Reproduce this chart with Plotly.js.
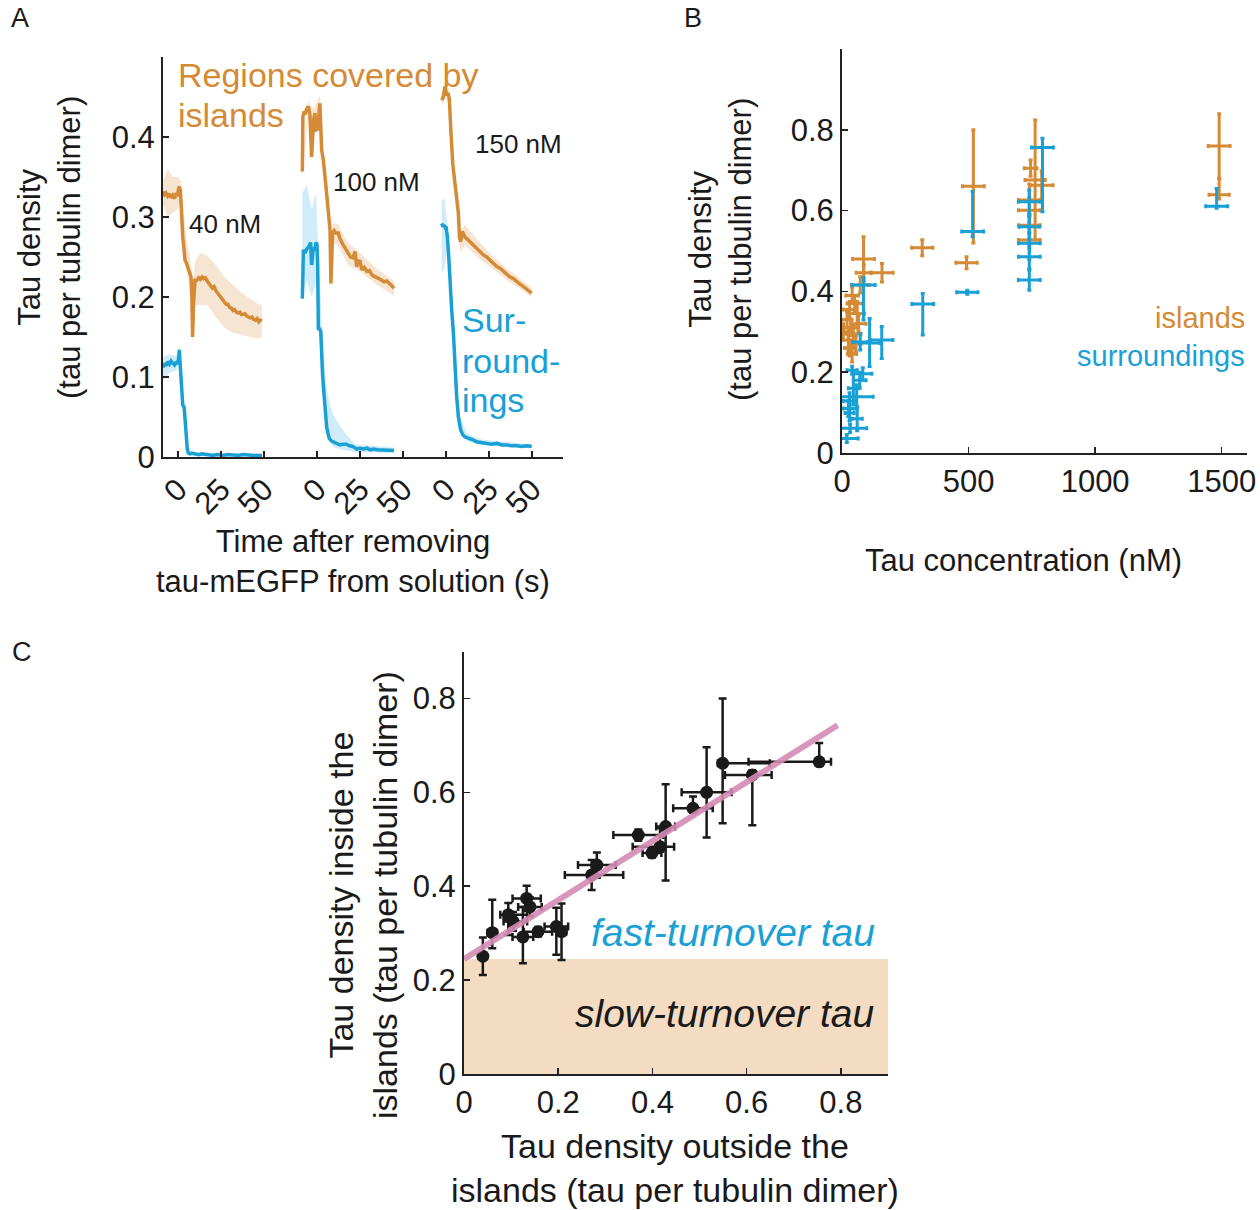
<!DOCTYPE html>
<html><head><meta charset="utf-8">
<script src="https://cdn.plot.ly/plotly-3.0.1.min.js"></script>
<style>html,body{margin:0;padding:0;background:#fff}#chart{width:1260px;height:1210px}</style>
</head><body><div id="chart"></div>
<script>
// ---------------- Panel A data (time in s, tau per tubulin dimer) ----------------
const concLabels = ['40 nM', '100 nM', '150 nM'];
const timeTicks = [0, 25, 50];
// 40 nM
const tA1o = [-8.7,-7.8,-7,-6,-5,-4,-3,-2,-1,-0.3,0.3,0.8,1.4,2.1,2.8,3.5,4.1,5,6,7,7.6,8.1,8.5,9.0,9.9,11,12,13,14,15,16,17,18,19,20,21,22,23,24,25,26,27,28,29,30,31,32,33,34,35,36,37,38,39,40,41,42,43,44,45,46,47,48,48.8];
const vA1o = [0.332,0.328,0.330,0.326,0.329,0.324,0.327,0.323,0.330,0.326,0.335,0.338,0.333,0.29,0.275,0.26,0.246,0.242,0.236,0.228,0.225,0.20,0.15,0.19,0.221,0.221,0.224,0.222,0.225,0.223,0.224,0.220,0.216,0.214,0.211,0.213,0.208,0.205,0.203,0.199,0.197,0.193,0.191,0.191,0.187,0.186,0.183,0.184,0.181,0.180,0.181,0.178,0.178,0.179,0.176,0.175,0.174,0.175,0.172,0.171,0.173,0.169,0.171,0.170];
const tA1b = [-8.7,-7.8,-7,-6,-5,-4,-3,-2,-1,-0.3,0.3,0.8,1.2,1.8,2.2,2.8,3.6,4.2,4.8,5.4,6,7,8,10,12,14,16,18,20,23,26,29,32,35,38,41,44,47,48.8];
const vA1b = [0.112,0.117,0.114,0.119,0.116,0.120,0.117,0.115,0.119,0.116,0.122,0.134,0.118,0.10,0.08,0.065,0.062,0.04,0.02,0.01,0.005,0.004,0.005,0.004,0.003,0.004,0.003,0.003,0.002,0.003,0.002,0.003,0.002,0.002,0.003,0.002,0.002,0.002,0.002];
const bT1o = [-8.7,-6,-3,0,1.5,3,5,7,8.5,10,13,17,22,27,32,37,42,46,48.8];
const bH1o = [0.345,0.36,0.35,0.35,0.345,0.31,0.27,0.25,0.22,0.245,0.255,0.252,0.24,0.225,0.215,0.205,0.198,0.192,0.19];
const bL1o = [0.315,0.30,0.305,0.31,0.32,0.27,0.232,0.205,0.14,0.19,0.19,0.19,0.175,0.162,0.155,0.152,0.15,0.148,0.15];
const bT1b = [-8.7,-5,-1,0.8,2,3.5,5,7,48.8];
const bH1b = [0.125,0.128,0.126,0.14,0.11,0.07,0.02,0.006,0.004];
const bL1b = [0.095,0.105,0.108,0.125,0.09,0.05,0.005,0.001,0.001];
// 100 nM
const tA2o = [-8.5,-8.2,-7.5,-7,-6,-5,-4.1,-3.1,-2.1,-1.2,-0.6,0.5,1.2,1.7,2.7,3.7,4.7,5.7,6.7,7.6,8.1,8.6,9.1,10,11,12.4,13.5,15,16.5,18.2,19.5,21,22.1,23.1,24,25,26,27.5,29,30.5,31.8,33,34.5,36,37.6,39,40.5,42.4,43.5,44.8];
const vA2o = [0.357,0.425,0.432,0.428,0.435,0.438,0.428,0.375,0.419,0.43,0.409,0.41,0.43,0.442,0.384,0.371,0.35,0.33,0.305,0.284,0.217,0.25,0.28,0.283,0.28,0.28,0.272,0.266,0.26,0.255,0.25,0.249,0.257,0.238,0.244,0.246,0.234,0.237,0.232,0.233,0.228,0.226,0.225,0.223,0.221,0.219,0.22,0.217,0.214,0.211];
const tA2b = [-8.5,-7.9,-7,-6,-5,-4.2,-3.7,-3.1,-2.1,-1.2,-0.6,0,0.4,0.8,1.5,2.2,2.7,3.2,3.7,4.2,4.7,5.6,6.5,7.2,8.5,9.5,11,13.4,15,17,19,21,23,25,27,29,31,33,35,37,38.8,40.5,42.5,44.8];
const vA2b = [0.198,0.259,0.255,0.26,0.262,0.266,0.268,0.24,0.262,0.258,0.268,0.266,0.24,0.159,0.16,0.157,0.122,0.105,0.089,0.072,0.059,0.038,0.028,0.023,0.02,0.019,0.018,0.015,0.016,0.016,0.014,0.013,0.01,0.011,0.01,0.011,0.009,0.01,0.009,0.009,0.008,0.009,0.008,0.008];
const bT2o = [-8.5,-5,-2,1.7,4,7.6,8.1,9.1,12,18,25,35,44.8];
const bH2o = [0.365,0.445,0.435,0.452,0.365,0.292,0.232,0.292,0.292,0.268,0.255,0.235,0.22];
const bL2o = [0.35,0.43,0.405,0.432,0.345,0.276,0.205,0.268,0.265,0.24,0.232,0.215,0.202];
const bT2b = [-8.5,-6,-3,-0.5,0.5,2,4,6,9,13,17,22,44.8];
const bH2b = [0.33,0.34,0.31,0.33,0.27,0.2,0.12,0.08,0.055,0.04,0.028,0.016,0.012];
const bL2b = [0.2,0.22,0.2,0.22,0.2,0.14,0.07,0.03,0.013,0.01,0.008,0.006,0.005];
// 150 nM
const tA3o = [-2.5,-1.6,-0.6,0.4,1.1,1.9,2.9,3.9,5.2,6.2,7.2,7.8,8.5,9.5,11,12.5,14,16,17.8,19.7,21.7,23.6,25.6,27.5,29.5,31.4,33.3,35.2,37.2,39.1,41.1,43,45,47,48.5,49.8];
const vA3o = [0.446,0.45,0.463,0.452,0.455,0.448,0.405,0.367,0.342,0.321,0.305,0.275,0.269,0.282,0.275,0.272,0.269,0.266,0.261,0.257,0.2525,0.25,0.246,0.241,0.238,0.236,0.232,0.229,0.225,0.223,0.219,0.216,0.213,0.209,0.207,0.205];
const tA3b = [-2.5,-1.8,-1.2,-0.5,0,0.8,1.6,2.3,3.3,4.3,5.2,6.2,7.2,8.5,9.7,11,12.5,14,16,17.8,20,23.7,26.5,29.5,32.5,35.3,38,41.1,44,47,49.8];
const vA3b = [0.292,0.288,0.29,0.287,0.288,0.275,0.25,0.217,0.184,0.155,0.113,0.075,0.05,0.034,0.028,0.025,0.024,0.023,0.021,0.019,0.018,0.017,0.016,0.017,0.015,0.015,0.014,0.014,0.013,0.014,0.013];
const bT3o = [-2.5,0,1.9,4,7.8,8.5,11,18,25,35,49.8];
const bH3o = [0.455,0.47,0.458,0.37,0.285,0.282,0.29,0.272,0.256,0.236,0.212];
const bL3o = [0.44,0.45,0.44,0.35,0.265,0.255,0.265,0.25,0.238,0.222,0.2];
const bT3b = [-2.5,-1,0.8,2.3,4.3,7.2,12,20,49.8];
const bH3b = [0.32,0.325,0.29,0.225,0.163,0.057,0.03,0.022,0.016];
const bL3b = [0.23,0.235,0.26,0.21,0.147,0.044,0.02,0.015,0.011];

// ---------------- Panel B data (nM, tau per tubulin dimer) ----------------
const isX    = [1490,1490,519,492,317,763,789,740,740,740,740,745,85,158,86,72,40,50,30,60,20,65,35,5,45,25,30,40,55];
const isY    = [0.760,0.639,0.66,0.471,0.508,0.676,0.663,0.626,0.601,0.564,0.527,0.705,0.48,0.446,0.446,0.416,0.39,0.37,0.355,0.345,0.33,0.32,0.31,0.30,0.295,0.28,0.26,0.245,0.27];
const isXerr = [43,40,43,42,42,40,45,43,43,43,43,25,43,44,30,35,25,30,25,30,20,30,25,35,30,25,20,18,20];
const isYup  = [0.08,0.04,0.14,0.015,0.02,0.148,0.035,0.04,0.03,0.02,0.02,0.02,0.055,0.023,0.02,0.02,0.02,0.02,0.02,0.03,0.02,0.02,0.02,0.02,0.02,0.03,0.02,0.02,0.02];
const isYdn  = [0.08,0.01,0.14,0.015,0.02,0.148,0.035,0.04,0.03,0.02,0.02,0.02,0.055,0.023,0.02,0.02,0.02,0.02,0.02,0.03,0.02,0.02,0.02,0.02,0.02,0.03,0.02,0.02,0.02];
const suX    = [1480,792,740,740,740,740,740,516,495,319,85,109,157,72,40,82,70,58,30,45,25,30,32,19,60];
const suY    = [0.611,0.756,0.622,0.56,0.519,0.486,0.428,0.548,0.398,0.369,0.416,0.272,0.28,0.275,0.205,0.196,0.18,0.139,0.129,0.16,0.11,0.099,0.061,0.036,0.085];
const suXerr = [43,43,43,40,43,43,43,43,42,43,46,40,44,30,20,36,25,65,25,20,20,18,66,45,20];
const suYup  = [0.044,0.023,0.029,0.03,0.04,0.03,0.025,0.099,0.005,0.026,0.018,0.061,0.033,0.02,0.01,0.015,0.02,0.03,0.02,0.04,0.02,0.02,0.01,0.01,0.03];
const suYdn  = [0.005,0.159,0.03,0.03,0.04,0.03,0.025,0.013,0.005,0.077,0.087,0.058,0.046,0.02,0.01,0.015,0.02,0.03,0.02,0.04,0.02,0.02,0.01,0.01,0.03];

// ---------------- Panel C data ----------------
const cX  = [0.754,0.549,0.612,0.515,0.486,0.428,0.416,0.399,0.37,0.282,0.271,0.133,0.14,0.094,0.104,0.06,0.04,0.125,0.157,0.196,0.207];
const cY  = [0.665,0.662,0.637,0.60,0.566,0.527,0.484,0.471,0.509,0.445,0.424,0.374,0.356,0.339,0.325,0.301,0.251,0.292,0.303,0.314,0.303];
const cXm = [0.15,0.01,0.058,0.053,0.042,0.02,0.058,0.02,0.053,0.04,0.057,0.03,0.025,0.017,0.02,0.01,0.005,0.022,0.03,0.025,0.01];
const cXp = [0.025,0.10,0.041,0.053,0.042,0.02,0.03,0.02,0.053,0.04,0.067,0.03,0.025,0.04,0.03,0.01,0.005,0.022,0.03,0.025,0.01];
const cYm = [0.005,0.128,0.107,0.096,0.0,0.115,0.01,0.01,0.012,0.027,0.032,0.027,0.02,0.043,0.02,0.033,0.04,0.056,0.01,0.06,0.06];
const cYp = [0.04,0.138,0.01,0.096,0.025,0.09,0.04,0.01,0.012,0.027,0.032,0.027,0.02,0.025,0.02,0.07,0.04,0.064,0.01,0.04,0.06];
const fitIntercept = 0.245, fitSlope = 0.628, fitXmax = 0.793;

// ---------------- styling ----------------
const ORANGE = '#d58a35', BLUE = '#19a0d5', BLACK = '#1a1a1a', PINK = 'rgba(212,140,178,0.9)', PEACH = '#f3dcc1';
const FONT = 'Liberation Sans, Arial, Helvetica, sans-serif';
const W = 1260, H = 1210;
const px = v => v / W, py = v => 1 - v / H;
const tOffsets = [8.7, 89.5, 164.5]; // horizontal placement of each concentration's time axis

const traces = [];
function band(t, hi, lo, g, color) {
  const x = t.map(v => v + tOffsets[g]);
  traces.push({type:'scatter', mode:'lines', xaxis:'x', yaxis:'y', hoverinfo:'skip',
    x: x.concat(x.slice().reverse()), y: hi.concat(lo.slice().reverse()),
    fill:'toself', fillcolor: color, line:{width:0}, showlegend:false});
}
function trace(t, v, g, color) {
  traces.push({type:'scatter', mode:'lines', xaxis:'x', yaxis:'y', showlegend:false,
    x: t.map(a => a + tOffsets[g]), y: v, line:{color: color, width: 3.5}});
}
const OB = 'rgba(230,170,110,0.3)', BB = 'rgba(110,195,235,0.32)';
band(bT1o,bH1o,bL1o,0,OB); band(bT1b,bH1b,bL1b,0,BB);
band(bT2o,bH2o,bL2o,1,OB); band(bT2b,bH2b,bL2b,1,BB);
band(bT3o,bH3o,bL3o,2,OB); band(bT3b,bH3b,bL3b,2,BB);
trace(tA1o,vA1o,0,ORANGE); trace(tA1b,vA1b,0,BLUE);
trace(tA2o,vA2o,1,ORANGE); trace(tA2b,vA2b,1,BLUE);
trace(tA3o,vA3o,2,ORANGE); trace(tA3b,vA3b,2,BLUE);

function ebTrace(x, y, xe, yu, yd, color) {
  return {type:'scatter', mode:'markers', xaxis:'x2', yaxis:'y2', showlegend:false,
    x, y, marker:{size:2, color},
    error_x:{type:'data', array:xe, symmetric:true, color, thickness:3, width:2},
    error_y:{type:'data', array:yu, arrayminus:yd, symmetric:false, color, thickness:3, width:2}};
}
traces.push(ebTrace(isX, isY, isXerr, isYup, isYdn, ORANGE));
traces.push(ebTrace(suX, suY, suXerr, suYup, suYdn, BLUE));

traces.push({type:'scatter', mode:'markers', xaxis:'x3', yaxis:'y3', showlegend:false,
  x:cX, y:cY, marker:{size:13, color:BLACK},
  error_x:{type:'data', symmetric:false, array:cXp, arrayminus:cXm, color:BLACK, thickness:2.5, width:4},
  error_y:{type:'data', symmetric:false, array:cYp, arrayminus:cYm, color:BLACK, thickness:2.5, width:4}});
traces.push({type:'scatter', mode:'lines', xaxis:'x3', yaxis:'y3', showlegend:false,
  x:[0, fitXmax], y:[fitIntercept, fitIntercept + fitSlope * fitXmax], line:{color:PINK, width:6}});

// tick positions for panel A
const aTickVals = [], aTickText = [];
tOffsets.forEach(o => timeTicks.forEach(t => { aTickVals.push(o + t); aTickText.push(String(t)); }));

const axBase = {showline:true, linecolor:'#222', linewidth:2, ticks:'inside', ticklen:6, tickwidth:1.5,
  tickcolor:'#222', showgrid:false, zeroline:false, tickfont:{family:FONT, size:31, color:BLACK}, fixedrange:true};

const ann = [];
function txt(text, x, y, opts) {
  ann.push(Object.assign({text, x:px(x), y:py(y), xref:'paper', yref:'paper', showarrow:false,
    xanchor:'center', yanchor:'middle', font:{family:FONT, size:31, color:BLACK}}, opts || {}));
}
txt('A', 20, 18, {font:{family:FONT, size:27, color:BLACK}});
txt('B', 693, 18, {font:{family:FONT, size:27, color:BLACK}});
txt('C', 22, 652, {font:{family:FONT, size:27, color:BLACK}});
// panel A texts
txt('Regions covered by', 176, 75, {xanchor:'left', font:{family:FONT, size:34, color:ORANGE}});
txt('islands', 176, 115, {xanchor:'left', font:{family:FONT, size:34, color:ORANGE}});
txt(concLabels[0], 225, 224, {font:{family:FONT, size:26, color:BLACK}});
txt(concLabels[1], 376, 182, {font:{family:FONT, size:26, color:BLACK}});
txt(concLabels[2], 518, 144, {font:{family:FONT, size:26, color:BLACK}});
txt('Sur-', 460, 320, {xanchor:'left', font:{family:FONT, size:34, color:BLUE}});
txt('round-', 460, 361, {xanchor:'left', font:{family:FONT, size:34, color:BLUE}});
txt('ings', 460, 400, {xanchor:'left', font:{family:FONT, size:34, color:BLUE}});
txt('Tau density<br>(tau per tubulin dimer)', 49, 248, {textangle:-90});
txt('Time after removing<br>tau-mEGFP from solution (s)', 353, 561);
// panel B texts
txt('islands', 1247, 318, {xanchor:'right', font:{family:FONT, size:29, color:ORANGE}});
txt('surroundings', 1247, 356, {xanchor:'right', font:{family:FONT, size:29, color:BLUE}});
txt('Tau density<br>(tau per tubulin dimer)', 721, 250, {textangle:-90});
txt('Tau concentration (nM)', 1023, 560);
// panel C texts
txt('Tau density inside the<br>islands (tau per tubulin dimer)', 363, 895, {textangle:-90, font:{family:FONT, size:34, color:BLACK}});
txt('Tau density outside the<br>islands (tau per tubulin dimer)', 675, 1168, {font:{family:FONT, size:34, color:BLACK}});
txt('<i>fast-turnover tau</i>', 733, 932, {font:{family:FONT, size:39, color:BLUE}});
txt('<i>slow-turnover tau</i>', 725, 1013, {font:{family:FONT, size:39, color:BLACK}});

const layout = {
  width:W, height:H, margin:{l:0, r:0, t:0, b:0}, paper_bgcolor:'#fff', plot_bgcolor:'rgba(0,0,0,0)',
  showlegend:false, font:{family:FONT, color:BLACK},
  xaxis: Object.assign({}, axBase, {domain:[px(163), px(563)], range:[0, 232.5], anchor:'y',
    tickvals:aTickVals, ticktext:aTickText, tickangle:-45}),
  yaxis: Object.assign({}, axBase, {domain:[py(457), py(57)], range:[0, 0.5], anchor:'x',
    tickvals:[0,0.1,0.2,0.3,0.4], ticktext:['0','0.1','0.2','0.3','0.4']}),
  xaxis2: Object.assign({}, axBase, {domain:[px(842), px(1247)], range:[0, 1600], anchor:'y2',
    tickvals:[0,500,1000,1500]}),
  yaxis2: Object.assign({}, axBase, {domain:[py(453), py(49)], range:[0, 1.0], anchor:'x2',
    tickvals:[0,0.2,0.4,0.6,0.8], ticktext:['0','0.2','0.4','0.6','0.8']}),
  xaxis3: Object.assign({}, axBase, {domain:[px(464), px(888)], range:[0, 0.9], anchor:'y3',
    tickvals:[0,0.2,0.4,0.6,0.8], ticktext:['0','0.2','0.4','0.6','0.8']}),
  yaxis3: Object.assign({}, axBase, {domain:[py(1074), py(651.5)], range:[0, 0.9], anchor:'x3',
    tickvals:[0,0.2,0.4,0.6,0.8], ticktext:['0','0.2','0.4','0.6','0.8']}),
  shapes:[{type:'rect', xref:'x3', yref:'y3', x0:0, x1:0.9, y0:0, y1:fitIntercept, layer:'below',
    fillcolor:PEACH, line:{width:0}}],
  annotations: ann
};
Plotly.newPlot('chart', traces, layout, {displayModeBar:false, staticPlot:true});
</script></body></html>
